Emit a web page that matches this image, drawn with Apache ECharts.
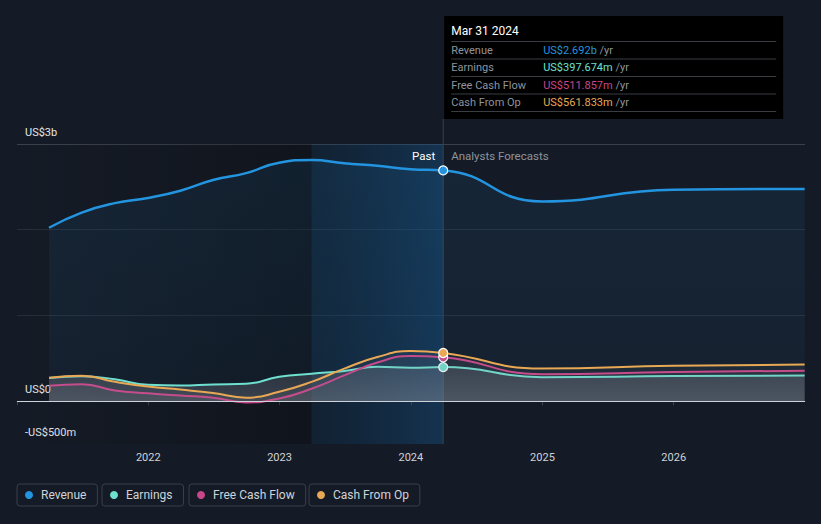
<!DOCTYPE html>
<html><head><meta charset="utf-8">
<script src="https://cdn.jsdelivr.net/npm/echarts@6/dist/echarts.min.js"></script>
<style>html,body{margin:0;padding:0;background:#151b26;}#c{width:821px;height:524px;}</style>
</head><body><div id="c"></div>
<script>
const pastDates = ['2021-03-31','2021-06-30','2021-09-30','2021-12-31','2022-03-31','2022-06-30','2022-09-30','2022-12-31','2023-03-31','2023-06-30','2023-09-30','2023-12-31','2024-03-31'];
const forecastDates = ['2024-12-31','2025-12-31','2026-12-31'];
const revenue = [2023,2200,2310,2370,2455,2580,2660,2782,2813,2775,2745,2705,2692, 2330,2465,2475];
const earnings = [270,290,255,190,182,195,203,284,320,352,400,390,397.674, 280,292,300];
const freeCashFlow = [179,198,125,92,65,40,-15,31,145,300,450,528,511.857, 315,340,355];
const cashFromOp = [272,296,225,170,135,95,40,109,225,380,515,584,561.833, 380,412,428];
const seriesNames = ['Revenue','Earnings','Free Cash Flow','Cash From Op'];
const seriesColors = ['#2394df','#6ee0cf','#c9468a','#e8a854'];
const yTickLabels = {'3000':'US$3b','0':'US$0','-500':'-US$500m'};
const xYearLabels = [2022,2023,2024,2025,2026];
const highlightStart = '2023-03-31';
const tooltipTitle = 'Mar 31 2024';

const allDates = pastDates.concat(forecastDates);
const lastPast = pastDates.length - 1;
const chart = echarts.init(document.getElementById('c'), null, {renderer:'svg'});
const font = 'Roboto, "Noto Sans", sans-serif';

function mk(vals, color){
  return allDates.map((d,i)=> i===lastPast ? {value:[d,vals[i]], symbol:'circle', symbolSize:9,
      itemStyle:{color:color, borderColor:'#ffffff', borderWidth:1.2}} : [d, vals[i]]);
}
const grey = (a1,a2)=>({type:'linear',x:0,y:0,x2:0,y2:1,colorStops:[{offset:0,color:`rgba(135,140,150,${a1})`},{offset:1,color:`rgba(150,155,165,${a2})`}]});

const dataSets = [revenue, earnings, freeCashFlow, cashFromOp];
const series = dataSets.map((vals, k)=>({
  name: seriesNames[k], type:'line', smooth:0.5, symbol:'none', showSymbol:true,
  z: 2+k,
  data: mk(vals, seriesColors[k]),
  lineStyle:{color:seriesColors[k], width: k===0?2.5:2},
  itemStyle:{color:seriesColors[k]},
  areaStyle: k===0 ? {color:{type:'linear',x:0,y:0,x2:0,y2:1,colorStops:[{offset:0,color:'rgba(35,148,223,0.13)'},{offset:1,color:'rgba(35,148,223,0.07)'}]}}
    : (k===1 ? {color: grey(0.28,0.42)} : {color: grey(0.1,0.14)}),
  emphasis:{disabled:true},
  animation:false
}));
series[0].markArea = {silent:true, data:[
  [{xAxis:'2021-01-01', itemStyle:{color:{type:'linear',x:0,y:0,x2:1,y2:0,colorStops:[{offset:0,color:'rgba(0,0,0,0)'},{offset:1,color:'rgba(0,0,0,0.25)'}]}}},{xAxis:highlightStart}],
  [{xAxis:highlightStart, itemStyle:{color:{type:'linear',x:0,y:0,x2:1,y2:0,colorStops:[{offset:0,color:'rgba(5,60,100,0.2)'},{offset:1,color:'rgba(20,90,150,0.38)'}]}}},{xAxis:pastDates[lastPast]}]
]};
series[0].markLine = {silent:true, symbol:'none', label:{show:false}, lineStyle:{color:'#cfd4da', width:1, type:'solid'}, data:[{yAxis:0}]};

const legends = seriesNames.map((n,k)=>({
  data:[n], top:484, left:[17,102,189,309][k], orient:'horizontal',
  icon:'circle', itemWidth:14, itemHeight:8, itemGap:0,
  padding:[5,11,5,8], borderColor:'#3a404b', borderWidth:1, borderRadius:3,
  textStyle:{color:'#cfd3d9', fontSize:12, fontFamily:font},
  selectedMode:false
}));

chart.setOption({
  backgroundColor:'#151b26',
  animation:false,
  grid:{left:17, right:16, top:144, bottom:80, containLabel:false},
  legend: legends,
  xAxis:{type:'time', min:'2021-01-01', max:'2027-01-01',
    minInterval:365*24*3600*1000, maxInterval:366*24*3600*1000,
    axisLine:{lineStyle:{color:'#3d434e'}},
    axisTick:{show:true, length:4, lineStyle:{color:'#3d434e'}},
    splitLine:{show:false},
    axisLabel:{color:'#cfd3d9', fontSize:11, fontFamily:font, margin:8,
      formatter:(v)=>{const y=new Date(v).getFullYear(); return xYearLabels.includes(y)? String(y):'';}}
  },
  yAxis:{type:'value', min:-500, max:3000, interval:500,
    axisLine:{show:false}, axisTick:{show:false},
    splitLine:{show:true, lineStyle:{color:['transparent','transparent','transparent','#262e39','transparent','#262e39','transparent','#3b414b']}},
    axisLabel:{inside:true, margin:8, color:'#e3e6ea', fontSize:11, fontFamily:font, verticalAlign:'bottom', padding:[0,0,6,0],
      formatter:(v)=> yTickLabels[String(v)] || ''}
  },
  series: series
});

function fmt(v){ return v>=1000 ? 'US$'+(v/1000).toFixed(3)+'b' : 'US$'+v.toFixed(3)+'m'; }
const px = chart.convertToPixel({gridIndex:0}, [pastDates[lastPast], 0]);
const topPx = chart.convertToPixel({gridIndex:0}, [pastDates[lastPast], 3000]);
const boxX = px[0]+1, boxY = 16, boxW = 339, boxH = 103;
const rowLabels = seriesNames;
const graphics = [
  {type:'line', silent:true, z:1, shape:{x1:px[0], y1:boxY+boxH, x2:px[0], y2:px[1]+43}, style:{stroke:'#37404c', lineWidth:1}},
  {type:'text', silent:true, z:10, x:px[0]-8, y:topPx[1]+12, style:{text:'Past', fill:'#ffffff', font:'11.5px '+font, textAlign:'right', textVerticalAlign:'middle'}},
  {type:'text', silent:true, z:10, x:px[0]+8, y:topPx[1]+12, style:{text:'Analysts Forecasts', fill:'#8d939c', font:'11.5px '+font, textAlign:'left', textVerticalAlign:'middle'}},
  {type:'rect', silent:true, z:20, shape:{x:boxX, y:boxY, width:boxW, height:boxH}, style:{fill:'#000000'}},
  {type:'text', silent:true, z:21, x:boxX+7, y:boxY+15, style:{text:tooltipTitle, fill:'#ffffff', font:'12px '+font, textVerticalAlign:'middle'}}
];
[0,1,2,3,4].forEach(i=>{
  const ly = boxY + 25.5 + i*17.5;
  graphics.push({type:'line', silent:true, z:21, shape:{x1:boxX+7, y1:ly, x2:boxX+boxW-7, y2:ly}, style:{stroke:'#3a3d42', lineWidth:1}});
});
dataSets.forEach((vals,k)=>{
  const cy = boxY + 34 + k*17.5;
  graphics.push({type:'text', silent:true, z:21, x:boxX+7, y:cy, style:{text:rowLabels[k], fill:'#8e949c', font:'11px '+font, textVerticalAlign:'middle'}});
  graphics.push({type:'text', silent:true, z:21, x:boxX+99, y:cy, style:{
    text:'{v|'+fmt(vals[lastPast])+'}{u| /yr}', textVerticalAlign:'middle', font:'11px '+font,
    rich:{v:{fill:seriesColors[k], font:'11px '+font}, u:{fill:'#8e949c', font:'11px '+font}}}});
});
chart.setOption({graphic: graphics});
</script>
</body></html>
